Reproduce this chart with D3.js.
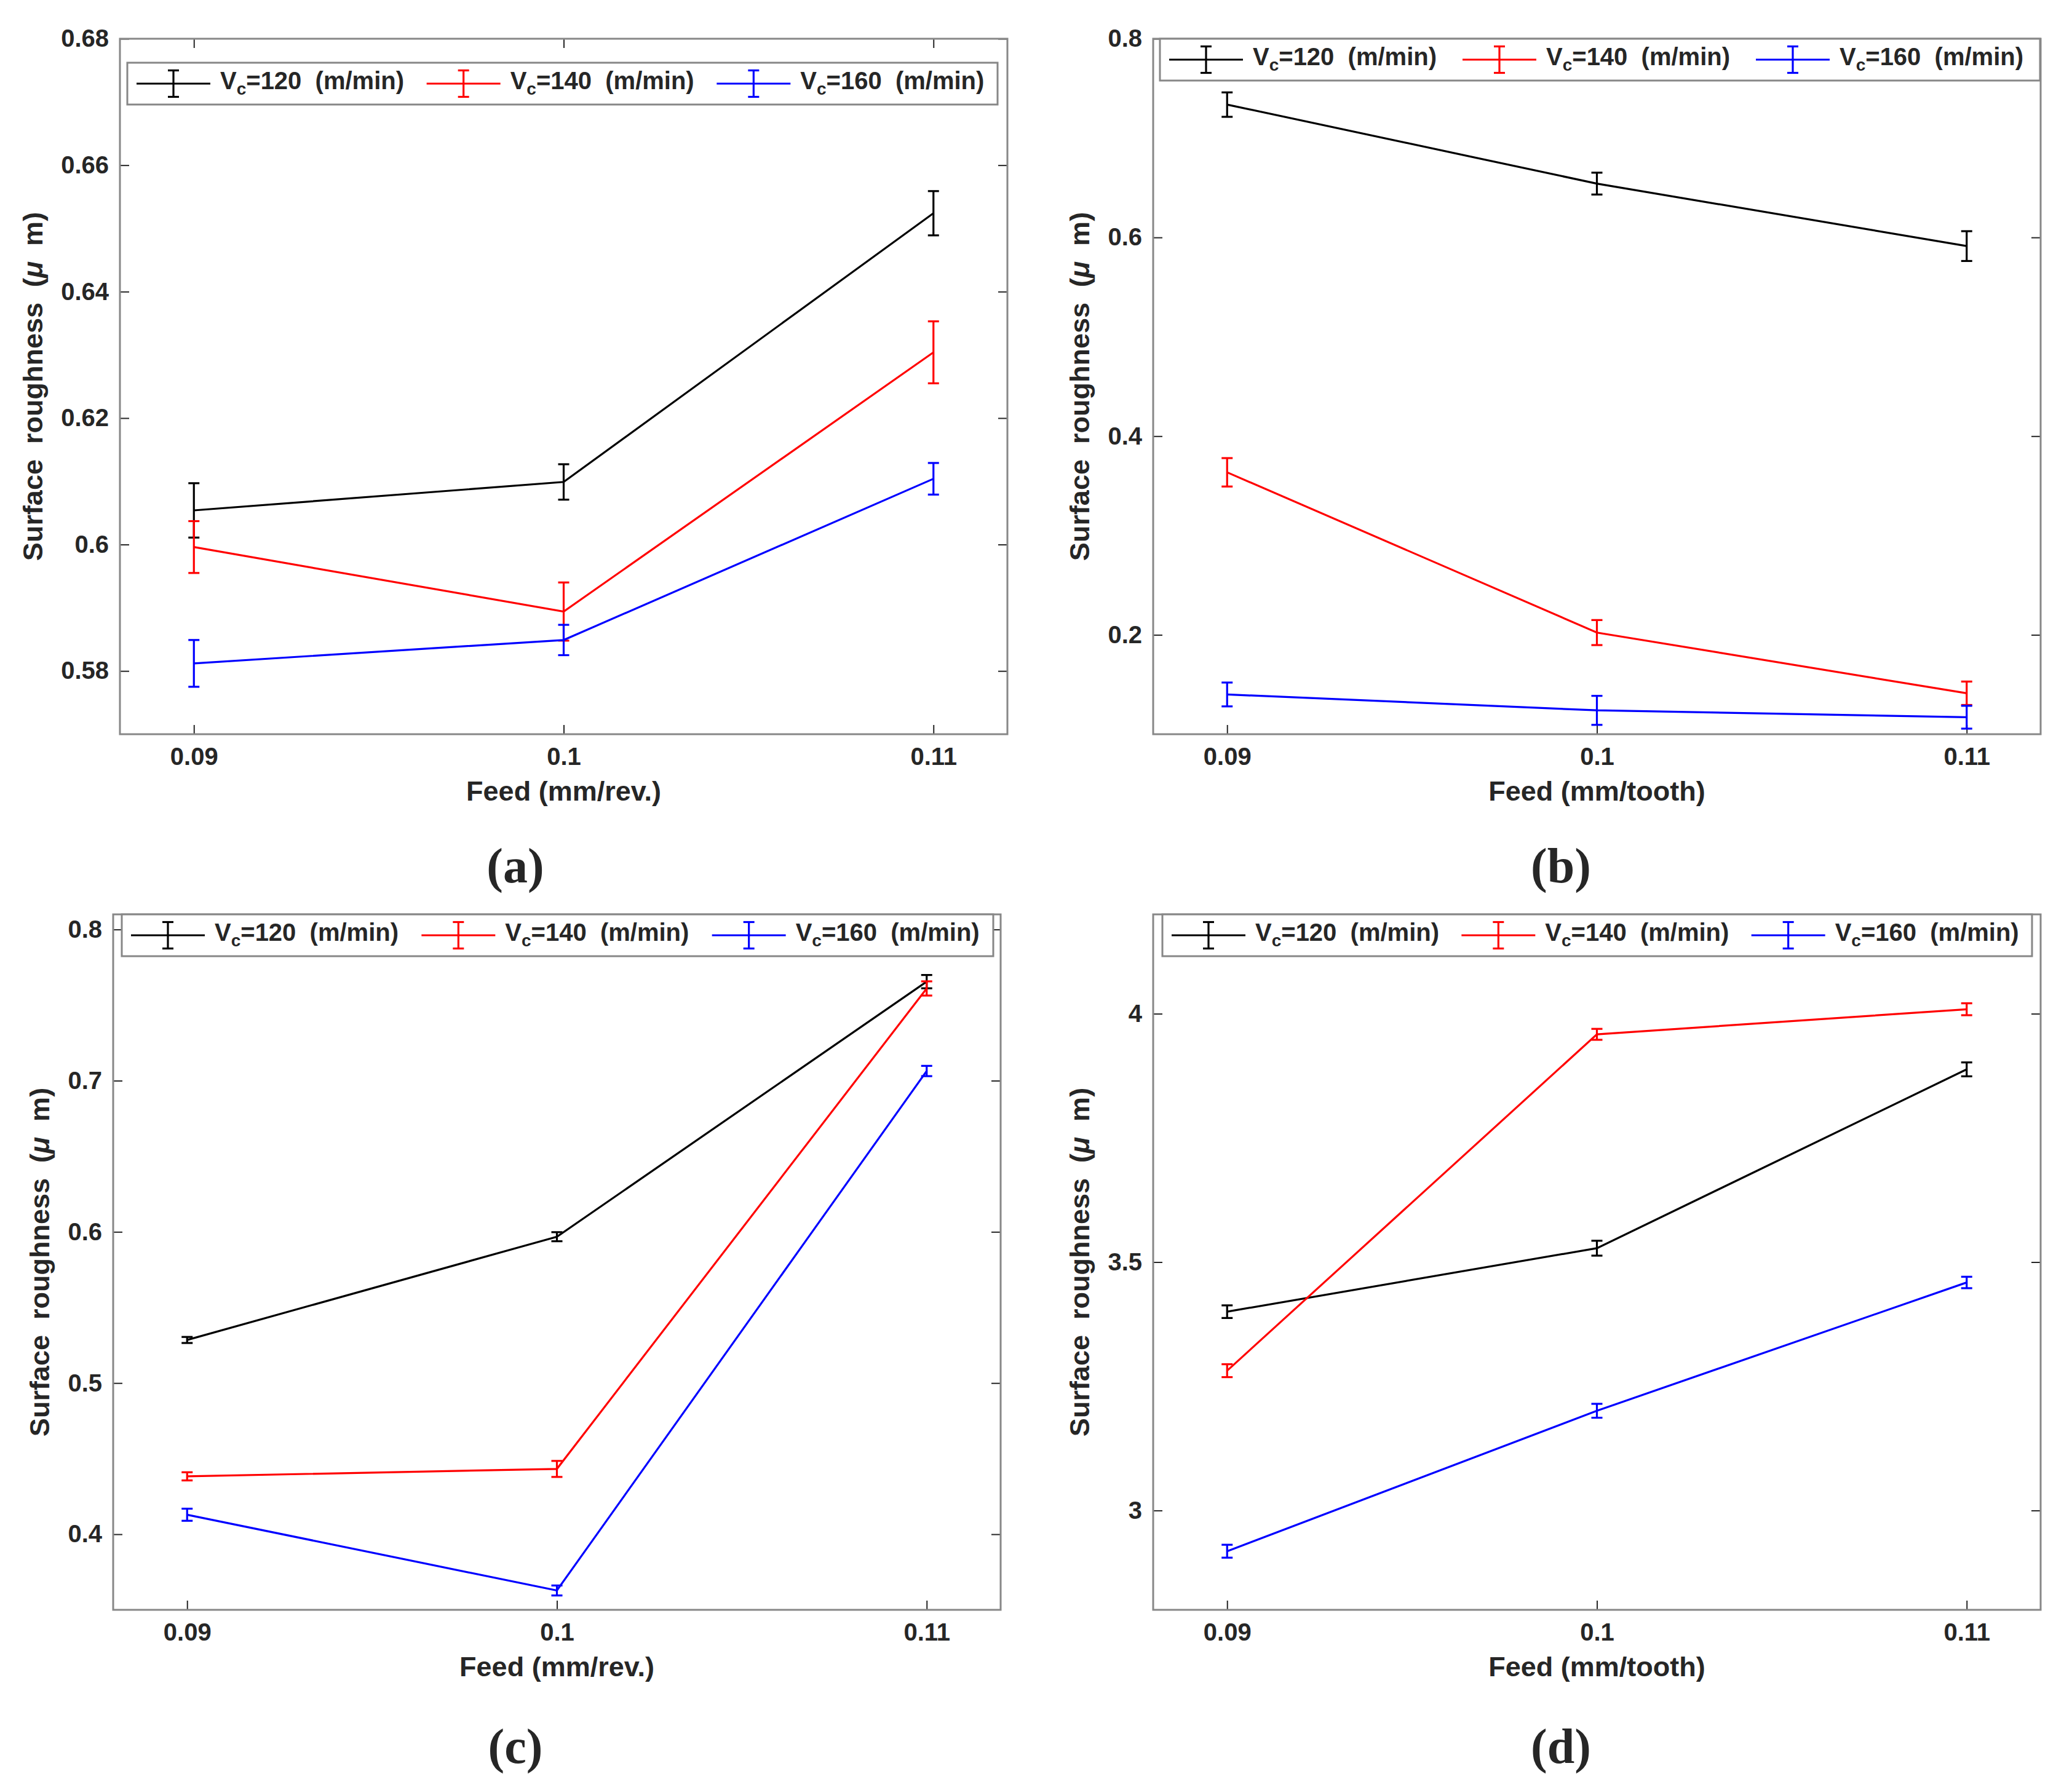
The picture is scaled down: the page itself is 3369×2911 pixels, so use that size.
<!DOCTYPE html>
<html>
<head>
<meta charset="utf-8">
<script src="https://cdn.jsdelivr.net/npm/d3@7"></script>
<style>
  body { margin: 0; background: #fff; }
  svg text { font-family: "Liberation Sans", Arial, sans-serif; font-weight: bold; fill: #262626; white-space: pre; }
</style>
</head>
<body>
<svg id="fig" width="3369" height="2911"></svg>
<script>
// ---- data ----
const speeds = [120, 140, 160];
const seriesColors = ["#000000", "#ff0000", "#0000ff"];
const feedValues = [0.09, 0.1, 0.11];
const feedTickLabels = ["0.09", "0.1", "0.11"];

// (a) turning, Ra vs feed (mm/rev.)
const meanA = [[0.6054, 0.6099, 0.6524], [0.5996, 0.5894, 0.6304], [0.5812, 0.5849, 0.6104]];
const errA  = [[0.0043, 0.0028, 0.0035], [0.0041, 0.0046, 0.0049], [0.0037, 0.0024, 0.0025]];
const yTicksA = [0.58, 0.6, 0.62, 0.64, 0.66, 0.68];

// (b) milling, Ra vs feed (mm/tooth)
const meanB = [[0.7337, 0.6542, 0.5913], [0.3636, 0.2023, 0.1412], [0.1400, 0.1240, 0.1171]];
const errB  = [[0.0123, 0.0110, 0.0150], [0.0143, 0.0126, 0.0118], [0.0120, 0.0146, 0.0115]];
const yTicksB = [0.2, 0.4, 0.6, 0.8];

// (c)
const meanC = [[0.5285, 0.5968, 0.7655], [0.4383, 0.4432, 0.7610], [0.4129, 0.3628, 0.7064]];
const errC  = [[0.0020, 0.0030, 0.0044], [0.0027, 0.0053, 0.0047], [0.0040, 0.0033, 0.0034]];
const yTicksC = [0.4, 0.5, 0.6, 0.7, 0.8];

// (d)
const meanD = [[3.4002, 3.528, 3.888], [3.2814, 3.9585, 4.009], [2.918, 3.2007, 3.459]];
const errD  = [[0.0127, 0.015, 0.014], [0.013, 0.011, 0.012], [0.013, 0.014, 0.0115]];
const yTicksD = [3, 3.5, 4];

const xLabels = ["Feed (mm/rev.)", "Feed (mm/tooth)", "Feed (mm/rev.)", "Feed (mm/tooth)"];
const panelLetters = ["a", "b", "c", "d"];

// ---- layout ----
const plotW = 1443, plotH = 1131;
const panels = [
  {left: 195,  top: 63,   ylim: [0.57, 0.68], mean: meanA, err: errA, ticks: yTicksA, leg: [12, 39, 1415], cap: [838, 1410]},
  {left: 1875, top: 63,   ylim: [0.1, 0.8],   mean: meanB, err: errB, ticks: yTicksB, leg: [11, 0, 1431],  cap: [2538, 1410]},
  {left: 184,  top: 1487, ylim: [0.35, 0.81], mean: meanC, err: errC, ticks: yTicksC, leg: [14, 0, 1417],  cap: [838, 2842]},
  {left: 1875, top: 1487, ylim: [2.8, 4.2],   mean: meanD, err: errD, ticks: yTicksD, leg: [15, 0, 1414],  cap: [2538, 2842]}
];

const svg = d3.select("#fig");
const fmt = d => String(+d.toFixed(3));
const lw0 = 3.2;

panels.forEach((p, pi) => {
  const g = svg.append("g").attr("transform", `translate(${p.left}, ${p.top})`);

  const x = d3.scaleLinear().domain([0.088, 0.112]).range([0, plotW]);
  const y = d3.scaleLinear().domain(p.ylim).range([plotH, 0]);

  // axes with inward ticks, mirrored on top/right
  const yAxis = g.append("g").call(d3.axisLeft(y).tickValues(p.ticks).tickFormat(fmt)
      .tickSizeInner(-15).tickSizeOuter(0).tickPadding(18));
  g.append("g").attr("transform", `translate(${plotW},0)`)
    .call(d3.axisRight(y).tickValues(p.ticks).tickFormat("").tickSizeInner(-15).tickSizeOuter(0));
  g.append("g").attr("transform", `translate(0,${plotH})`)
    .call(d3.axisBottom(x).tickValues(feedValues).tickFormat((d, i) => feedTickLabels[i])
      .tickSizeInner(-15).tickSizeOuter(0).tickPadding(22));
  g.append("g")
    .call(d3.axisTop(x).tickValues(feedValues).tickFormat("").tickSizeInner(-15).tickSizeOuter(0));

  g.selectAll(".domain").remove();
  g.selectAll(".tick line").attr("stroke", "#262626").attr("stroke-width", 2);
  g.selectAll(".tick text").attr("fill", "#262626").style("font-size", "40px")
    .style("font-family", "'Liberation Sans', Arial, sans-serif").style("font-weight", "bold");

  g.append("rect").attr("width", plotW).attr("height", plotH)
    .attr("fill", "none").attr("stroke", "#878787").attr("stroke-width", 3);

  // axis labels
  g.append("text").attr("x", plotW / 2).attr("y", plotH + 92).attr("dy", "0.35em")
    .attr("text-anchor", "middle").style("font-size", "45px").text(xLabels[pi]);
  const yb = yAxis.node().getBBox();
  const yl = g.append("text")
    .attr("transform", `translate(${yb.x - 46}, ${plotH / 2}) rotate(-90)`)
    .attr("text-anchor", "middle").attr("dy", "0.35em").style("font-size", "45px");
  yl.append("tspan").text("Surface  roughness  (");
  yl.append("tspan").style("font-style", "italic").text("\u03bc");
  yl.append("tspan").text("  m)");

  // series
  const line = d3.line().x((d, i) => x(feedValues[i])).y(d => y(d));
  p.mean.forEach((vals, si) => {
    const s = g.append("g").attr("stroke", seriesColors[si]).attr("stroke-width", lw0).attr("fill", "none");
    s.append("path").attr("d", line(vals));
    vals.forEach((v, i) => {
      const cx = x(feedValues[i]);
      const e = p.err[si][i];
      s.append("line").attr("x1", cx).attr("x2", cx).attr("y1", y(v - e)).attr("y2", y(v + e));
      [v - e, v + e].forEach(w => s.append("line")
        .attr("x1", cx - 9).attr("x2", cx + 9).attr("y1", y(w)).attr("y2", y(w)));
    });
  });

  // legend
  const [lx, ly, lw] = p.leg;
  const lh = 68;
  const lg = g.append("g").attr("transform", `translate(${lx}, ${ly})`);
  lg.append("rect").attr("width", lw).attr("height", lh)
    .attr("fill", "#fff").attr("stroke", "#878787").attr("stroke-width", 3);
  const step = lw / 3;
  speeds.forEach((sp, si) => {
    const ex = 15 + si * step;
    const cy = lh / 2;
    const eg = lg.append("g").attr("stroke", seriesColors[si]).attr("stroke-width", lw0);
    eg.append("line").attr("x1", ex).attr("x2", ex + 120).attr("y1", cy).attr("y2", cy);
    eg.append("line").attr("x1", ex + 60).attr("x2", ex + 60).attr("y1", cy - 21.5).attr("y2", cy + 21.5);
    [-21.5, 21.5].forEach(o => eg.append("line")
      .attr("x1", ex + 51).attr("x2", ex + 69).attr("y1", cy + o).attr("y2", cy + o));
    const t = lg.append("text").attr("x", ex + 136).attr("y", cy + 9).style("font-size", "40px");
    t.append("tspan").text("V");
    t.append("tspan").attr("dy", 9).style("font-size", "28px").text("c");
    t.append("tspan").attr("dy", -9).text(`=${sp}  (m/min)`);
  });

  // panel caption
  const cap = svg.append("text").attr("x", p.cap[0]).attr("y", p.cap[1] + 25)
    .attr("text-anchor", "middle")
    .style("font-family", "'Liberation Serif', 'Times New Roman', serif")
    .style("font-size", "80px").style("font-weight", "bold").attr("fill", "#000")
    .text(`(${panelLetters[pi]})`);
});
</script>
</body>
</html>
